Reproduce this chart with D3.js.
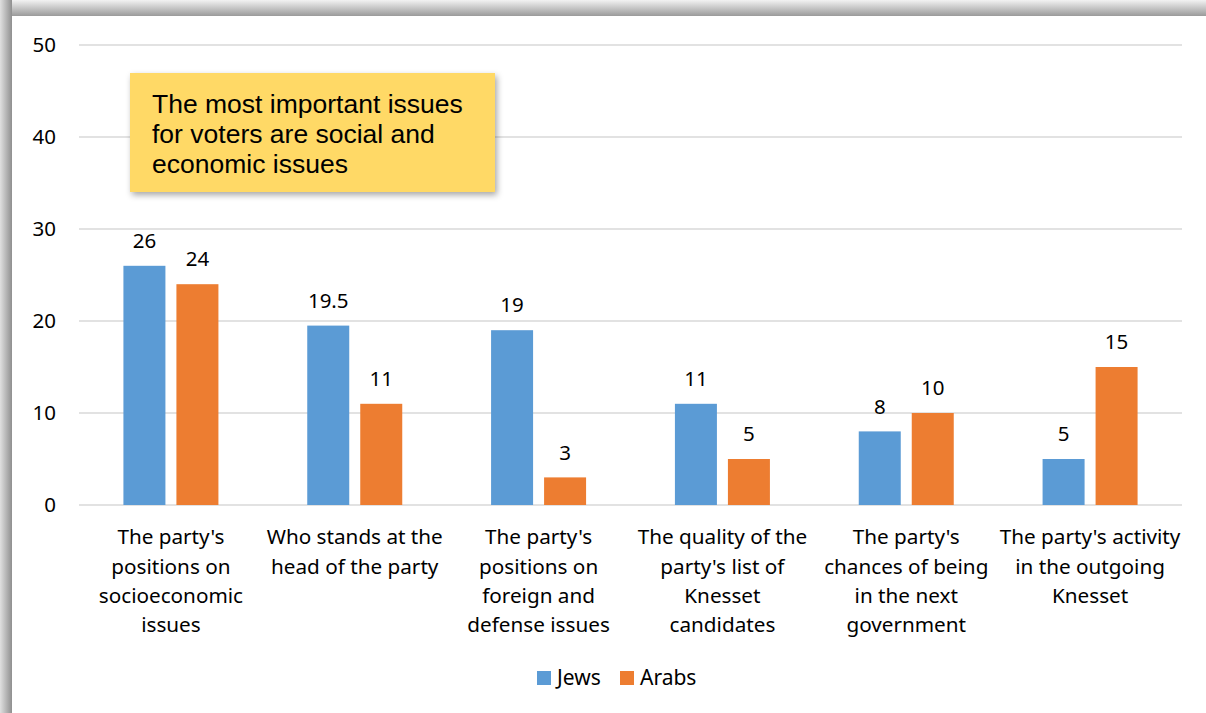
<!DOCTYPE html>
<html><head><meta charset="utf-8">
<script src="https://cdn.jsdelivr.net/npm/d3@7"></script>
<style>html,body{margin:0;padding:0;background:#fff;}svg{display:block;}</style>
</head><body>
<svg id="chart" width="1206" height="713"></svg>
<script>
const categories = [
  ["The party's","positions on","socioeconomic","issues"],
  ["Who stands at the","head of the party"],
  ["The party's","positions on","foreign and","defense issues"],
  ["The quality of the","party's list of","Knesset","candidates"],
  ["The party's","chances of being","in the next","government"],
  ["The party's activity","in the outgoing","Knesset"]
];
const jews = [26, 19.5, 19, 11, 8, 5];
const arabs = [24, 11, 3, 5, 10, 15];
const seriesNames = ["Jews", "Arabs"];
const seriesColors = ["#5B9BD5", "#ED7D31"];
const yTicks = [0, 10, 20, 30, 40, 50];
const calloutLines = ["The most important issues", "for voters are social and", "economic issues"];

const svg = d3.select("#chart");
const W = 1206, H = 713;
const font = "'Noto Sans', Lato, sans-serif";

const defs = svg.append("defs");
const gTop = defs.append("linearGradient").attr("id","gt").attr("x1",0).attr("y1",0).attr("x2",0).attr("y2",1);
gTop.append("stop").attr("offset","0%").attr("stop-color","#f2f2f2");
gTop.append("stop").attr("offset","100%").attr("stop-color","#9a9a9a");
const gLeft = defs.append("linearGradient").attr("id","gl").attr("x1",0).attr("y1",0).attr("x2",1).attr("y2",0);
gLeft.append("stop").attr("offset","0%").attr("stop-color","#e0e0e0");
gLeft.append("stop").attr("offset","100%").attr("stop-color","#8f8f8f");
svg.append("rect").attr("x",0).attr("y",0).attr("width",W).attr("height",16).attr("fill","url(#gt)");
svg.append("rect").attr("x",0).attr("y",0).attr("width",12).attr("height",H).attr("fill","url(#gl)");
svg.append("rect").attr("x",12).attr("y",16).attr("width",W-12).attr("height",H-16).attr("fill","#fff");

const filt = defs.append("filter").attr("id","sh").attr("x","-10%").attr("y","-10%").attr("width","130%").attr("height","130%");
filt.append("feDropShadow").attr("dx",2).attr("dy",3).attr("stdDeviation",3).attr("flood-color","#000").attr("flood-opacity",0.35);

const x0 = 79, x1 = 1182;
const y = d3.scaleLinear().domain([0,50]).range([505,45]);
const x = d3.scaleBand().domain(d3.range(categories.length)).range([x0,x1]).paddingInner(0).paddingOuter(0);
const barW = 42, gap = 11;

svg.append("g").selectAll("line").data(yTicks).join("line")
  .attr("x1",x0).attr("x2",x1).attr("y1",d=>y(d)).attr("y2",d=>y(d))
  .attr("stroke","#d9d9d9").attr("stroke-width",1.3);

svg.append("g").selectAll("text").data(yTicks).join("text")
  .attr("x",56).attr("y",d=>y(d)).attr("dy","0.35em").attr("text-anchor","end")
  .attr("font-family",font).attr("font-size",20.5).attr("fill","#000").text(d=>d);

const series = [jews, arabs];
series.forEach((vals, si) => {
  const g = svg.append("g");
  const cx = i => x(i) + x.bandwidth()/2 + (si===0 ? -(gap/2+barW) : gap/2);
  g.selectAll("rect").data(vals).join("rect")
    .attr("x",(d,i)=>cx(i)).attr("width",barW)
    .attr("y",d=>y(d)).attr("height",d=>y(0)-y(d))
    .attr("fill",seriesColors[si]);
  g.selectAll("text").data(vals).join("text")
    .attr("x",(d,i)=>cx(i)+barW/2).attr("y",d=>y(d)-25).attr("dy","0.35em")
    .attr("text-anchor","middle").attr("font-family",font).attr("font-size",20.5).attr("fill","#000")
    .text(d=>d);
});

const cl = svg.append("g").selectAll("text").data(categories).join("text")
  .attr("text-anchor","middle").attr("font-family",font).attr("font-size",20.7).attr("fill","#000");
cl.each(function(lines,i){
  const t = d3.select(this);
  lines.forEach((ln,j)=>{
    t.append("tspan").attr("x",x(i)+x.bandwidth()/2).attr("y",537+j*29.3).attr("dy","0.35em").text(ln);
  });
});

const leg = svg.append("g");
const legX = [537, 620];
seriesNames.forEach((n,i)=>{
  leg.append("rect").attr("x",legX[i]).attr("y",671).attr("width",14).attr("height",14).attr("fill",seriesColors[i]);
  leg.append("text").attr("x",legX[i]+20).attr("y",678).attr("dy","0.35em")
    .attr("font-family",font).attr("font-size",21).attr("fill","#000").text(n);
});

svg.append("rect").attr("x",130).attr("y",73).attr("width",365).attr("height",119)
  .attr("fill","#FFD966").attr("filter","url(#sh)");
const ct = svg.append("text").attr("font-family","'Liberation Sans', Arial, sans-serif").attr("font-size",26.5).attr("fill","#000");
calloutLines.forEach((ln,j)=>{
  ct.append("tspan").attr("x",152).attr("y",104+j*30).attr("dy","0.35em").text(ln);
});
</script>
</body></html>
